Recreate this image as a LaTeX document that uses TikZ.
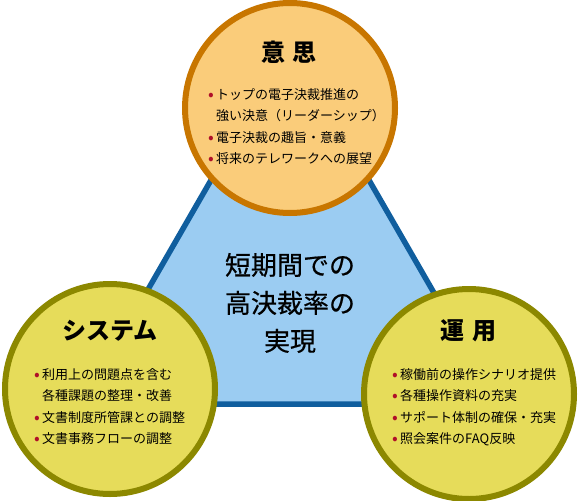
\documentclass[tikz,border=0pt]{standalone}
\usepackage{fontspec}
\setmainfont{Noto Sans CJK JP}
\newfontfamily\goalfont[FakeBold=0.6]{Noto Sans CJK JP}
\definecolor{TriFill}{RGB}{155,204,242}
\definecolor{TriLine}{RGB}{16,94,158}
\definecolor{IshiFill}{RGB}{250,204,122}
\definecolor{IshiLine}{RGB}{200,118,0}
\definecolor{YelFill}{RGB}{230,220,90}
\definecolor{YelLine}{RGB}{140,136,0}
\definecolor{DotRed}{RGB}{176,16,40}
\usetikzlibrary{positioning}
\newcommand{\listdot}{\makebox[8pt][l]{\textcolor{DotRed}{\raisebox{-0.1em}{\scalebox{1.3}{•}}}}}
\newcommand{\listgap}{\hspace*{8pt}}

\begin{document}
\begin{tikzpicture}[x=1pt,y=-1pt,
    bigcircle/.style={circle,line width=6pt,minimum size=210pt,inner sep=0pt},
    titletext/.style={font=\fontsize{24}{28}\selectfont\bfseries,inner sep=0pt},
    itemtext/.style={align=left,font=\fontsize{13}{21.5}\selectfont,inner sep=0pt,anchor=north west}]
  \useasboundingbox (0,0) rectangle (580,500);
  % triangle in the back
  \coordinate (apex) at (290,43);
  \coordinate (lowleft) at (82,404);
  \coordinate (lowright) at (498,404);
  \draw[draw=TriLine,fill=TriFill,line width=5.5pt,line join=miter] (apex) -- (lowleft) -- (lowright) -- cycle;
  \node[align=center,font=\goalfont\fontsize{26}{38}\selectfont,inner sep=0pt] (goal) at (290,303) {短期間での\\高決裁率の\\実現};
  % three circles
  \node[bigcircle,draw=IshiLine,fill=IshiFill] (ishi) at (290,108) {};
  \node[bigcircle,draw=YelLine,fill=YelFill] (system) at (110,389) {};
  \node[bigcircle,draw=YelLine,fill=YelFill] (unyou) at (469,394) {};
  % titles
  \node[titletext] (ishititle) at (289,52) {意\hspace{8pt}思};
  \node[titletext] (systitle) at (110,331) {システム};
  \node[titletext] (unyoutitle) at (468,331) {運\hspace{8pt}用};
  % lists
  \node[itemtext] (ishilist) at (208,88) {\listdot トップの電子決裁推進の\\\listgap 強い決意（リーダーシップ）\\\listdot 電子決裁の趣旨・意義\\\listdot 将来のテレワークへの展望};
  \node[itemtext] (syslist) at (34,368) {\listdot 利用上の問題点を含む\\\listgap 各種課題の整理・改善\\\listdot 文書制度所管課との調整\\\listdot 文書事務フローの調整};
  \node[itemtext] (unyoulist) at (392,368) {\listdot 稼働前の操作シナリオ提供\\\listdot 各種操作資料の充実\\\listdot サポート体制の確保・充実\\\listdot 照会案件のFAQ反映};
\end{tikzpicture}
\end{document}
